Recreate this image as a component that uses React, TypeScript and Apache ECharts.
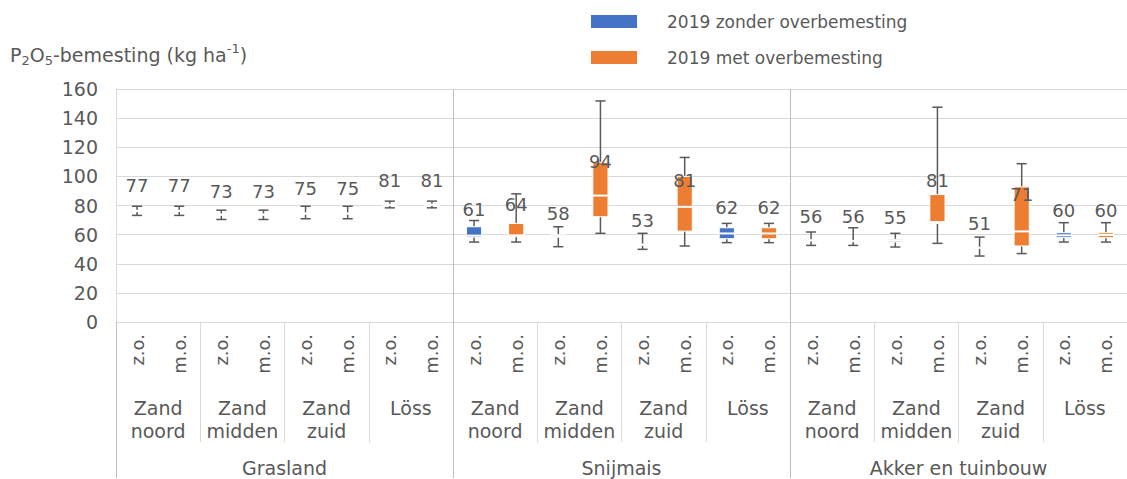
import React, { useEffect, useRef } from "react";
import * as echarts from "echarts";

// ---- Data ----
const typeLabels = [
  "z.o.", "m.o.", "z.o.", "m.o.", "z.o.", "m.o.", "z.o.", "m.o.",
  "z.o.", "m.o.", "z.o.", "m.o.", "z.o.", "m.o.", "z.o.", "m.o.",
  "z.o.", "m.o.", "z.o.", "m.o.", "z.o.", "m.o.", "z.o.", "m.o.",
];
const regionLabels = [
  "Zand\nnoord", "Zand\nmidden", "Zand\nzuid", "Löss",
  "Zand\nnoord", "Zand\nmidden", "Zand\nzuid", "Löss",
  "Zand\nnoord", "Zand\nmidden", "Zand\nzuid", "Löss",
];
const groupLabels = ["Grasland", "Snijmais", "Akker en tuinbouw"];
const seriesNames = ["2019 zonder overbemesting", "2019 met overbemesting"];
const seriesColors = ["#4472C4", "#ED7D31"];

const minV = [73.2, 73.2, 70.4, 70.4, 70.9, 70.9, 78.4, 78.4, 54.9, 54.9, 51.7, 60.9, 49.9, 52.2, 54.5, 54.5, 52.6, 52.6, 51.5, 54.0, 45.3, 47.0, 54.9, 54.9];
const q1V = [76.0, 76.0, 73.3, 73.3, 74.2, 74.2, 80.2, 80.2, 58.3, 58.6, 58.3, 72.3, 52.8, 62.4, 57.2, 57.2, 55.9, 55.4, 54.9, 67.7, 50.8, 52.2, 57.9, 57.9];
const medV = [76.3, 76.3, 73.8, 73.8, 74.5, 74.5, 80.5, 80.5, 59.3, 59.5, 59.0, 86.8, 53.1, 79.1, 60.8, 60.8, 56.1, 55.6, 55.8, 68.6, 51.0, 62.2, 59.5, 59.8];
const q3V = [76.6, 76.6, 74.0, 74.0, 74.8, 74.8, 80.8, 80.8, 65.4, 67.7, 60.0, 109.6, 53.4, 100.0, 64.7, 64.7, 56.3, 55.8, 56.8, 87.5, 51.2, 92.8, 61.3, 61.3];
const maxV = [79.5, 79.5, 76.8, 76.8, 79.5, 79.5, 83.0, 83.0, 69.7, 88.0, 65.4, 151.8, 60.9, 113.0, 67.7, 67.7, 61.8, 64.7, 60.9, 147.5, 58.3, 108.7, 68.2, 68.2];
const meanV = [77, 77, 73, 73, 75, 75, 81, 81, 61, 64, 58, 94, 53, 81, 62, 62, 56, 56, 55, 81, 51, 71, 60, 60];

const yTicks = { min: 0, max: 160, interval: 20 };

const TEXT = "#595959";
const FONT = "DejaVu Sans";

export default function App() {
  const ref = useRef<HTMLDivElement>(null);

  useEffect(() => {
    if (!ref.current) return;
    const chart = echarts.init(ref.current, null, { renderer: "svg" });

    const build = (parity: number) =>
      typeLabels
        .map((_, i) => i)
        .filter((i) => i % 2 === parity)
        .map((i) => [i, minV[i], q1V[i], medV[i], q3V[i], maxV[i], meanV[i]]);

    const renderItem = (params: any, api: any) => {
      const x = api.value(0);
      const pMin = api.coord([x, api.value(1)]);
      const pQ1 = api.coord([x, api.value(2)]);
      const pMed = api.coord([x, api.value(3)]);
      const pQ3 = api.coord([x, api.value(4)]);
      const pMax = api.coord([x, api.value(5)]);
      const pMean = api.coord([x, api.value(6)]);
      const w = api.size([1, 0])[0];
      const bw = w * 0.36;
      const cw = w * 0.24;
      const cx = pMed[0];
      const color = api.visual("color");
      const stroke = { stroke: "#595959", lineWidth: 1.5 };
      return {
        type: "group",
        children: [
          { type: "line", shape: { x1: cx, y1: pMax[1], x2: cx, y2: pMin[1] }, style: stroke },
          { type: "line", shape: { x1: cx - cw / 2, y1: pMax[1], x2: cx + cw / 2, y2: pMax[1] }, style: stroke },
          { type: "line", shape: { x1: cx - cw / 2, y1: pMin[1], x2: cx + cw / 2, y2: pMin[1] }, style: stroke },
          {
            type: "rect",
            shape: { x: cx - bw / 2, y: pQ3[1], width: bw, height: Math.max(pQ1[1] - pQ3[1], 0.5) },
            style: { fill: color, stroke: "#ffffff", lineWidth: 1 },
          },
          {
            type: "line",
            shape: { x1: cx - bw / 2, y1: pMed[1], x2: cx + bw / 2, y2: pMed[1] },
            style: { stroke: "#ffffff", lineWidth: 2 },
          },
          {
            type: "text",
            x: cx,
            y: pMean[1] - 24,
            style: {
              text: String(api.value(6)),
              fill: TEXT,
              fontSize: 18,
              fontFamily: FONT,
              align: "center",
              verticalAlign: "middle",
            },
          },
        ],
      };
    };

    const option: any = {
      animation: false,
      textStyle: { fontFamily: FONT },
      grid: { left: 116, right: -3, top: 89, bottom: 156, containLabel: false },
      legend: {
        orient: "vertical",
        left: 586,
        top: 8,
        itemWidth: 46,
        itemHeight: 13,
        itemGap: 19,
        icon: "rect",
        data: seriesNames,
        formatter: (name: string) => `{p|${name}}`,
        textStyle: {
          color: TEXT,
          fontSize: 17,
          fontFamily: FONT,
          rich: { p: { padding: [0, 0, 0, 25], fontSize: 17, color: TEXT, fontFamily: FONT, lineHeight: 20 } },
        },
      },
      graphic: [
        {
          type: "text",
          left: 10,
          top: 42,
          style: {
            text: "{m|P}{s|2}{m|O}{s|5}{m|-bemesting (kg ha}{u|-1}{m|)}",
            rich: {
              m: { fontSize: 19, fontFamily: FONT, fill: TEXT, color: TEXT, lineHeight: 25, verticalAlign: "middle" },
              s: { fontSize: 13, fontFamily: FONT, fill: TEXT, color: TEXT, lineHeight: 13, verticalAlign: "bottom" },
              u: { fontSize: 13, fontFamily: FONT, fill: TEXT, color: TEXT, lineHeight: 13, verticalAlign: "top" },
            },
          },
        },
      ],
      xAxis: [
        {
          type: "category",
          data: typeLabels,
          position: "bottom",
          axisLine: { show: true, lineStyle: { color: "#d9d9d9", width: 1 } },
          axisTick: { show: false },
          splitLine: { show: false },
          axisLabel: { interval: 0, rotate: 90, margin: 12, color: TEXT, fontSize: 18, fontFamily: FONT },
        },
        {
          type: "category",
          data: regionLabels,
          position: "bottom",
          axisLine: { show: false },
          axisTick: { show: true, interval: 0, length: 120, lineStyle: { color: "#d9d9d9", width: 1 } },
          splitLine: { show: false },
          axisLabel: { interval: 0, margin: 74, lineHeight: 23, color: TEXT, fontSize: 19, fontFamily: FONT },
        },
        {
          type: "category",
          data: groupLabels,
          position: "bottom",
          axisLine: { show: false },
          axisTick: { show: true, interval: 0, length: 156, lineStyle: { color: "#bfbfbf", width: 1 } },
          splitLine: { show: true, interval: 0, lineStyle: { color: "#bfbfbf", width: 1 } },
          axisLabel: { interval: 0, margin: 134, lineHeight: 23, color: TEXT, fontSize: 19, fontFamily: FONT },
        },
      ],
      yAxis: {
        type: "value",
        min: yTicks.min,
        max: yTicks.max,
        interval: yTicks.interval,
        axisLine: { show: true, lineStyle: { color: "#d9d9d9" } },
        axisTick: { show: false },
        splitLine: { show: true, lineStyle: { color: "#d9d9d9", width: 1 } },
        axisLabel: { color: TEXT, fontSize: 19, fontFamily: FONT, margin: 18 },
      },
      series: [0, 1].map((s) => ({
        name: seriesNames[s],
        type: "custom",
        xAxisIndex: 0,
        yAxisIndex: 0,
        itemStyle: { color: seriesColors[s] },
        encode: { x: 0, y: [1, 2, 3, 4, 5] },
        renderItem,
        data: build(s),
        z: 3,
      })),
    };

    chart.setOption(option);
    return () => chart.dispose();
  }, []);

  return (
    <div
      ref={ref}
      style={{ position: "fixed", left: 0, top: 0, width: 1127, height: 479, background: "#fff" }}
    />
  );
}
